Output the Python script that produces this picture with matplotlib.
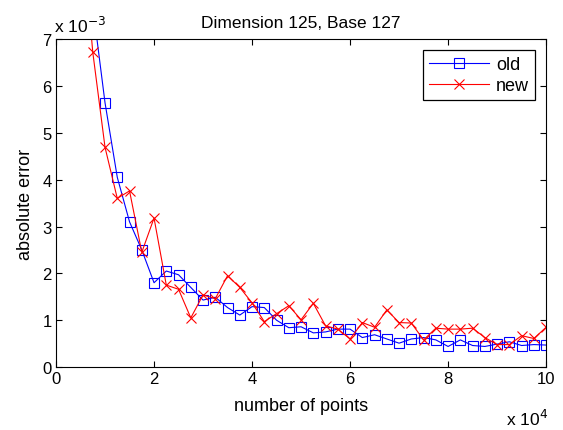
import numpy as np
import matplotlib.pyplot as plt

plt.rcParams['font.family'] = ['Liberation Sans', 'DejaVu Sans']

# number of points (in units of 1e4) and absolute error (in units of 1e-3)
n_points = np.arange(0.5, 10.01, 0.25)
err_old = [11.0, 7.7, 5.64, 4.05, 3.10, 2.50, 1.80, 2.05, 1.97, 1.70, 1.43, 1.49,
           1.27, 1.11, 1.29, 1.27, 1.00, 0.84, 0.86, 0.73, 0.75, 0.81, 0.81, 0.63,
           0.69, 0.60, 0.51, 0.60, 0.63, 0.58, 0.44, 0.58, 0.46, 0.44, 0.49, 0.54,
           0.46, 0.48, 0.47]
err_new = [9.7, 6.72, 4.69, 3.60, 3.76, 2.45, 3.18, 1.75, 1.66, 1.05, 1.54, 1.46,
           1.95, 1.70, 1.37, 0.97, 1.14, 1.31, 1.01, 1.36, 0.88, 0.81, 0.60, 0.95,
           0.85, 1.22, 0.95, 0.94, 0.58, 0.83, 0.81, 0.81, 0.83, 0.63, 0.48, 0.48,
           0.67, 0.61, 0.85]

fig = plt.figure(figsize=(5.63, 4.31), dpi=100)
ax = fig.add_axes([0.0995, 0.146, 0.8705, 0.761])

ax.plot(n_points, err_old, color='blue', marker='s', markerfacecolor='none',
        markersize=7.5, linewidth=0.8, markeredgewidth=0.8, label='old')
ax.plot(n_points, err_new, color='red', marker='x',
        markersize=7.5, linewidth=0.8, markeredgewidth=0.8, label='new')

ax.set_xlim(0, 10)
ax.set_ylim(0, 7)
ax.set_xticks(range(0, 11, 2))
ax.set_yticks(range(0, 8))
ax.tick_params(direction='in', top=True, right=True, labelsize=12, length=4, pad=3)
for s in ax.spines.values():
    s.set_linewidth(0.8)

ax.set_xlabel('number of points', fontsize=13, labelpad=8)
ax.set_ylabel('absolute error', fontsize=13, labelpad=6)
ax.set_title('Dimension 125, Base 127', fontsize=12.5, pad=9)

ax.text(-0.005, 1.012, r'x 10$^{-3}$', transform=ax.transAxes, fontsize=12.5,
        ha='left', va='bottom')
ax.text(1.004, -0.125, r'x 10$^{4}$', transform=ax.transAxes, fontsize=12.5,
        ha='right', va='top')

leg = ax.legend(loc='upper right', fontsize=13, fancybox=False, framealpha=1,
                edgecolor='black', borderaxespad=0.6, handlelength=3.3,
                numpoints=1, borderpad=0.35, labelspacing=0.2, handletextpad=0.4)
leg.get_frame().set_linewidth(0.9)

fig.savefig('out.png', dpi=100)
